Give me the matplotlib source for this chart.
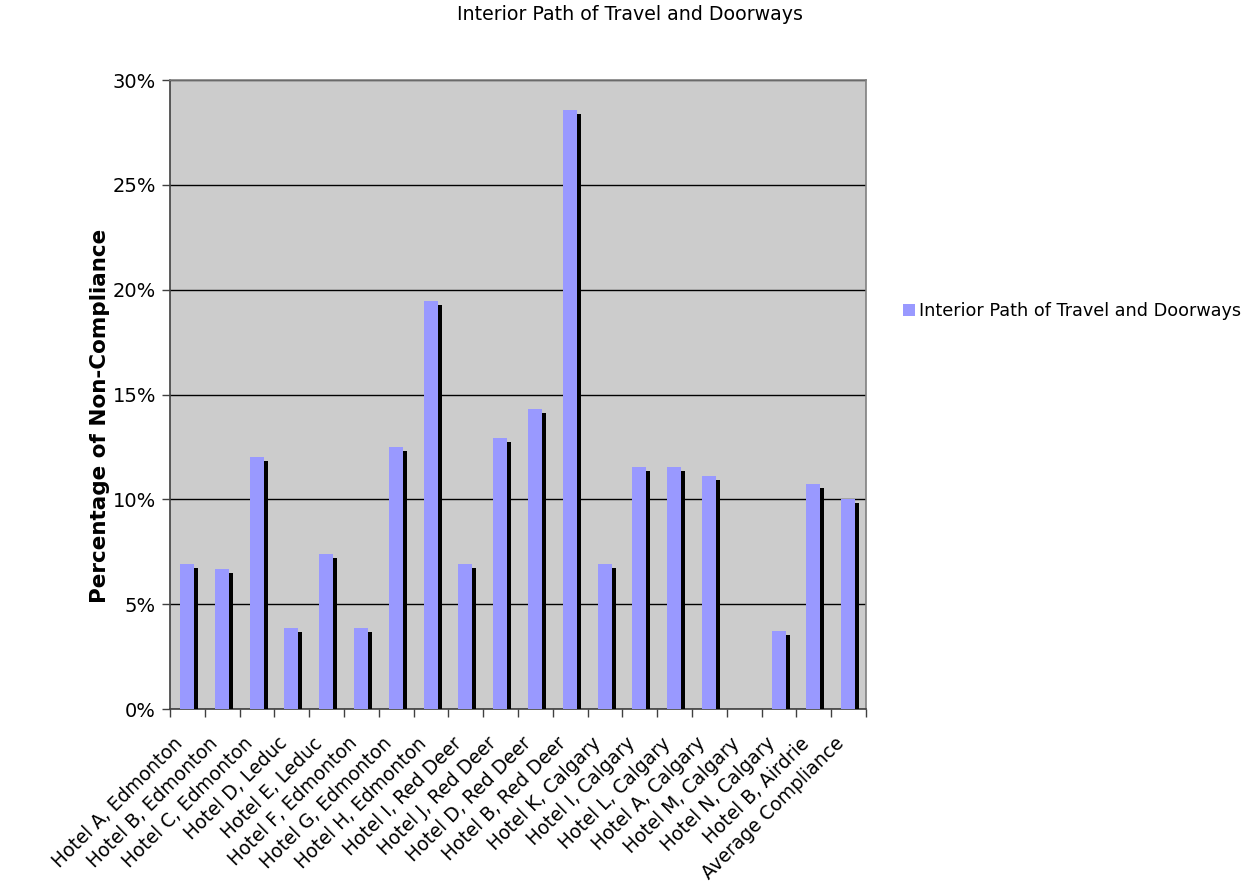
import matplotlib
matplotlib.use("Agg")
import matplotlib.pyplot as plt
import matplotlib.patheffects as pe
import matplotlib.transforms as mtransforms
from matplotlib.patches import Patch
from matplotlib.ticker import PercentFormatter, FixedLocator, NullFormatter, FixedFormatter
import numpy as np

title = "Interior Path of Travel and Doorways"
series_name = "Interior Path of Travel and Doorways"
y_label = "Percentage of Non-Compliance"

categories = [
    "Hotel A, Edmonton", "Hotel B, Edmonton", "Hotel C, Edmonton",
    "Hotel D, Leduc", "Hotel E, Leduc", "Hotel F, Edmonton",
    "Hotel G, Edmonton", "Hotel H, Edmonton", "Hotel I, Red Deer",
    "Hotel J, Red Deer", "Hotel D, Red Deer", "Hotel B, Red Deer",
    "Hotel K, Calgary", "Hotel I, Calgary", "Hotel L, Calgary",
    "Hotel A, Calgary", "Hotel M, Calgary", "Hotel N, Calgary",
    "Hotel B, Airdrie", "Average Compliance",
]
# percent of non-compliance
values = [6.9, 6.67, 12.0, 3.85, 7.41, 3.85, 12.5, 19.44, 6.9, 12.94,
          14.29, 28.57, 6.9, 11.54, 11.54, 11.11, 0.0, 3.7, 10.71, 10.0]

plt.rcParams["font.family"] = ["DejaVu Sans"]

fig = plt.figure(figsize=(12.59, 8.88), dpi=100)
ax = fig.add_axes([170 / 1259, 1 - 709 / 888, 696 / 1259, 629 / 888])
ax.set_facecolor("#CCCCCC")

x = np.arange(len(categories))
shadow = [pe.SimplePatchShadow(offset=(2.9, -2.9), shadow_rgbFace="black", alpha=1.0),
          pe.Normal()]
bars = ax.bar(x - 0.213, values, width=0.402, align="edge", color="#9999FF",
              linewidth=0, zorder=3)
for b in bars:
    b.set_path_effects(shadow)

ax.set_xlim(-0.5, len(categories) - 0.5)
ax.set_ylim(0, 30)
ax.set_yticks(np.arange(0, 31, 5))
ax.yaxis.set_major_formatter(PercentFormatter(xmax=100, decimals=0))
ax.grid(axis="y", color="black", linewidth=1.0, zorder=1)
ax.set_axisbelow(True)

ax.xaxis.set_major_locator(FixedLocator(np.arange(-0.5, len(categories), 1.0)))
ax.xaxis.set_major_formatter(NullFormatter())
ax.xaxis.set_minor_locator(FixedLocator(x))
ax.xaxis.set_minor_formatter(FixedFormatter(categories))
ax.tick_params(axis="x", which="major", length=6, width=1, color="#404040", direction="out")
ax.tick_params(axis="x", which="minor", length=0, pad=7, labelsize=13.4)
ax.tick_params(axis="y", length=6, width=1, color="#404040", labelsize=14, pad=4)
shift = mtransforms.ScaledTranslation(-14 / 100, -15 / 100, fig.dpi_scale_trans)
for lab in ax.get_xticklabels(minor=True):
    lab.set_rotation(45)
    lab.set_ha("right")
    lab.set_rotation_mode("anchor")
    lab.set_transform(lab.get_transform() + shift)

for side in ("left", "bottom"):
    ax.spines[side].set_color("#404040")
    ax.spines[side].set_linewidth(1.2)
for side in ("top", "right"):
    ax.spines[side].set_color("#808080")
    ax.spines[side].set_linewidth(1.2)

fig.text(630 / 1259, 1 - 14 / 888, title, ha="center", va="center", fontsize=13.7)
fig.text(100 / 1259, 1 - 416 / 888, y_label, rotation=90, ha="center", va="center",
         fontsize=15.5, fontweight="bold")

handle = Patch(facecolor="#9999FF", edgecolor="none")
fig.legend([handle], [series_name], loc="center left",
           bbox_to_anchor=(903 / 1259, 1 - 311 / 888), frameon=False,
           fontsize=12.7, handlelength=0.7, handleheight=0.7, handletextpad=0.2,
           borderpad=0, borderaxespad=0)

fig.savefig("out.png", dpi=100)
